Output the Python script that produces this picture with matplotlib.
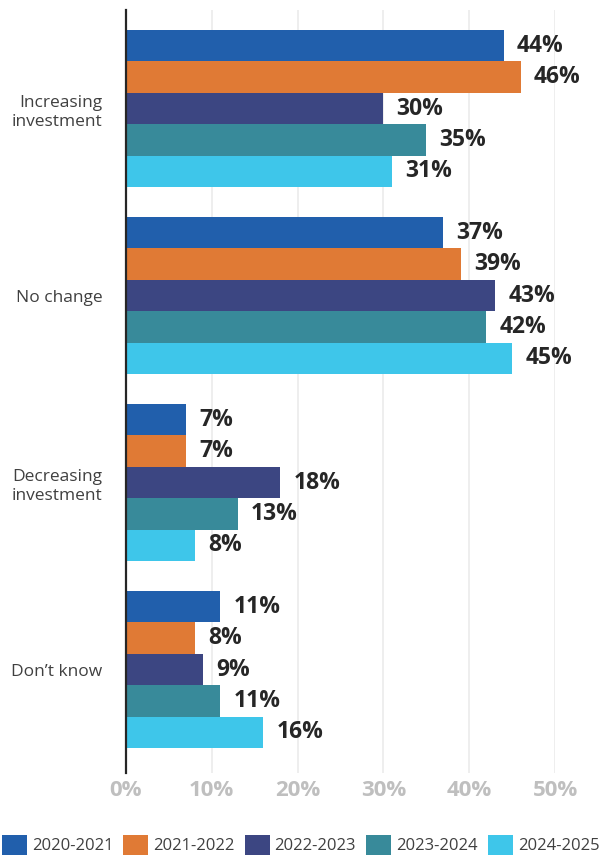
import numpy as np
import matplotlib
matplotlib.use("Agg")
import matplotlib.pyplot as plt

plt.rcParams['font.family'] = ['Open Sans', 'DejaVu Sans']

categories = ["Increasing\ninvestment", "No change", "Decreasing\ninvestment", "Don\u2019t know"]
years = ["2020-2021", "2021-2022", "2022-2023", "2023-2024", "2024-2025"]
colors = ["#215fac", "#e07a35", "#3c4682", "#388a9a", "#3ec6ea"]

# percent of respondents per category, one list per year
v_2020 = [44, 37, 7, 11]
v_2021 = [46, 39, 7, 8]
v_2022 = [30, 43, 18, 9]
v_2023 = [35, 42, 13, 11]
v_2024 = [31, 45, 8, 16]
series = [v_2020, v_2021, v_2022, v_2023, v_2024]

x_ticks = [0, 10, 20, 30, 40, 50]
x_tick_labels = ["0%", "10%", "20%", "30%", "40%", "50%"]

fig = plt.figure(figsize=(6.01, 8.56), dpi=100)
ax = fig.add_axes([126 / 601, 1 - 773 / 856, (555 - 126) / 601, (773 - 10) / 856])

y = np.arange(len(categories))
h = 0.168
for i, (vals, col, yr) in enumerate(zip(series, colors, years)):
    pos = y + (i - 2) * h
    bars = ax.barh(pos, vals, height=h, color=col, label=yr, zorder=2)
    for b, v in zip(bars, vals):
        ax.annotate(f"{v}%", (b.get_width(), b.get_y() + b.get_height() / 2),
                    xytext=(9.5, 0), textcoords="offset points",
                    ha="left", va="center", fontsize=16.5, fontweight="bold",
                    color="#262626", annotation_clip=False)

ax.set_xlim(0, 50)
ax.set_ylim(3.553, -0.527)
ax.set_yticks(y)
ax.set_yticklabels(categories, fontsize=12.5, color="#404040", linespacing=1.25)
ax.set_xticks(x_ticks)
ax.set_xticklabels(x_tick_labels, fontsize=16, fontweight="bold", color="#bfbfbf")
ax.tick_params(axis="both", length=0)
ax.tick_params(axis="y", pad=17)
ax.tick_params(axis="x", pad=5)

ax.grid(axis="x", color="#ebebeb", linewidth=1.2, zorder=0)
ax.set_axisbelow(True)
for s in ["top", "right", "bottom"]:
    ax.spines[s].set_visible(False)
ax.spines["left"].set_color("#262626")
ax.spines["left"].set_linewidth(1.6)
ax.spines["left"].set_zorder(3)

fig.legend(loc="center", bbox_to_anchor=(0.5, 1 - 845 / 856), ncol=5, frameon=False,
           fontsize=12, handlelength=1.5, handleheight=1.5, handletextpad=0.3,
           columnspacing=0.6, borderaxespad=0, borderpad=0, labelcolor="#404040")

fig.savefig("out.png", dpi=100)
